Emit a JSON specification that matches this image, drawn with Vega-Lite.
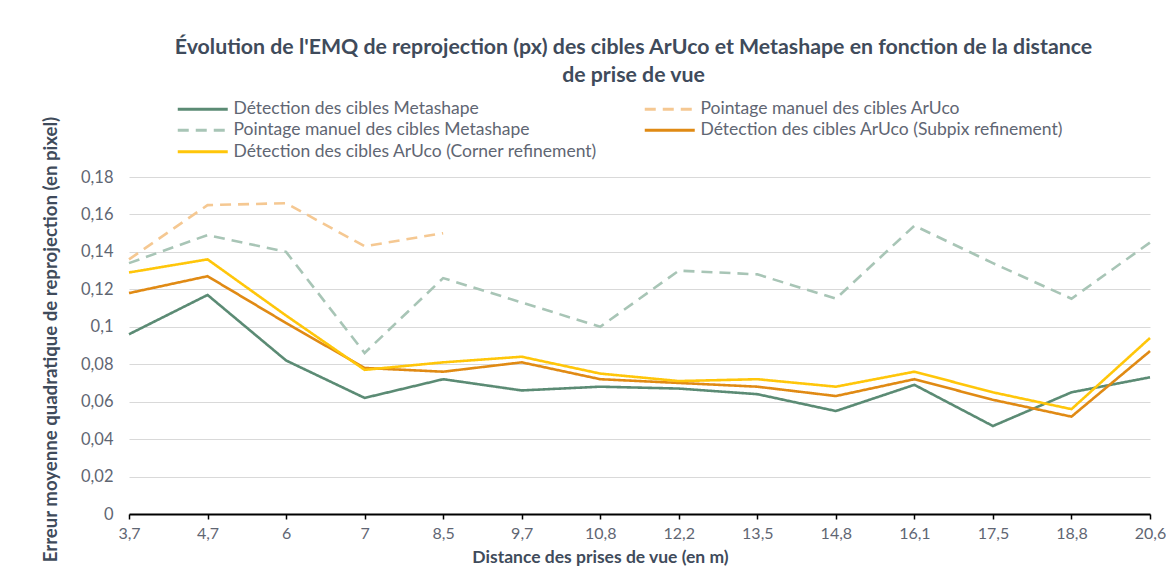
{
  "$schema": "https://vega.github.io/schema/vega-lite/v6.json",
  "width": 1021,
  "height": 337,
  "autosize": {"type": "none"},
  "padding": {"left": 129, "top": 177, "right": 16, "bottom": 61},
  "background": "white",
  "config": {
    "font": "Lato",
    "view": {"stroke": null}
  },
  "title": {
    "text": ["Évolution de l'EMQ de reprojection (px) des cibles ArUco et Metashape en fonction de la distance", "de prise de vue"],
    "anchor": "middle",
    "fontSize": 21.3,
    "fontWeight": "bold",
    "color": "#3F4B5B",
    "lineHeight": 28,
    "offset": 14,
    "dx": -6
  },
  "data": {
    "values": [
      {"d": "3,7", "Détection des cibles  Metashape": 0.096, "Pointage manuel des cibles ArUco": 0.136, "Pointage manuel des cibles  Metashape": 0.134, "Détection des cibles ArUco (Subpix refinement)": 0.118, "Détection des cibles ArUco (Corner refinement)": 0.129},
      {"d": "4,7", "Détection des cibles  Metashape": 0.117, "Pointage manuel des cibles ArUco": 0.165, "Pointage manuel des cibles  Metashape": 0.149, "Détection des cibles ArUco (Subpix refinement)": 0.127, "Détection des cibles ArUco (Corner refinement)": 0.136},
      {"d": "6", "Détection des cibles  Metashape": 0.082, "Pointage manuel des cibles ArUco": 0.166, "Pointage manuel des cibles  Metashape": 0.140, "Détection des cibles ArUco (Subpix refinement)": 0.102, "Détection des cibles ArUco (Corner refinement)": 0.106},
      {"d": "7", "Détection des cibles  Metashape": 0.062, "Pointage manuel des cibles ArUco": 0.143, "Pointage manuel des cibles  Metashape": 0.086, "Détection des cibles ArUco (Subpix refinement)": 0.078, "Détection des cibles ArUco (Corner refinement)": 0.077},
      {"d": "8,5", "Détection des cibles  Metashape": 0.072, "Pointage manuel des cibles ArUco": 0.150, "Pointage manuel des cibles  Metashape": 0.126, "Détection des cibles ArUco (Subpix refinement)": 0.076, "Détection des cibles ArUco (Corner refinement)": 0.081},
      {"d": "9,7", "Détection des cibles  Metashape": 0.066, "Pointage manuel des cibles  Metashape": 0.113, "Détection des cibles ArUco (Subpix refinement)": 0.081, "Détection des cibles ArUco (Corner refinement)": 0.084},
      {"d": "10,8", "Détection des cibles  Metashape": 0.068, "Pointage manuel des cibles  Metashape": 0.100, "Détection des cibles ArUco (Subpix refinement)": 0.072, "Détection des cibles ArUco (Corner refinement)": 0.075},
      {"d": "12,2", "Détection des cibles  Metashape": 0.067, "Pointage manuel des cibles  Metashape": 0.130, "Détection des cibles ArUco (Subpix refinement)": 0.070, "Détection des cibles ArUco (Corner refinement)": 0.071},
      {"d": "13,5", "Détection des cibles  Metashape": 0.064, "Pointage manuel des cibles  Metashape": 0.128, "Détection des cibles ArUco (Subpix refinement)": 0.068, "Détection des cibles ArUco (Corner refinement)": 0.072},
      {"d": "14,8", "Détection des cibles  Metashape": 0.055, "Pointage manuel des cibles  Metashape": 0.115, "Détection des cibles ArUco (Subpix refinement)": 0.063, "Détection des cibles ArUco (Corner refinement)": 0.068},
      {"d": "16,1", "Détection des cibles  Metashape": 0.069, "Pointage manuel des cibles  Metashape": 0.154, "Détection des cibles ArUco (Subpix refinement)": 0.072, "Détection des cibles ArUco (Corner refinement)": 0.076},
      {"d": "17,5", "Détection des cibles  Metashape": 0.047, "Pointage manuel des cibles  Metashape": 0.134, "Détection des cibles ArUco (Subpix refinement)": 0.061, "Détection des cibles ArUco (Corner refinement)": 0.065},
      {"d": "18,8", "Détection des cibles  Metashape": 0.065, "Pointage manuel des cibles  Metashape": 0.115, "Détection des cibles ArUco (Subpix refinement)": 0.052, "Détection des cibles ArUco (Corner refinement)": 0.056},
      {"d": "20,6", "Détection des cibles  Metashape": 0.073, "Pointage manuel des cibles  Metashape": 0.145, "Détection des cibles ArUco (Subpix refinement)": 0.087, "Détection des cibles ArUco (Corner refinement)": 0.094}
    ]
  },
  "transform": [
    {"fold": ["Détection des cibles  Metashape", "Pointage manuel des cibles ArUco", "Pointage manuel des cibles  Metashape", "Détection des cibles ArUco (Subpix refinement)", "Détection des cibles ArUco (Corner refinement)"], "as": ["serie", "v"]}
  ],
  "mark": {"type": "line", "strokeWidth": 2.6, "interpolate": "linear"},
  "encoding": {
    "x": {
      "field": "d",
      "type": "ordinal",
      "sort": ["3,7", "4,7", "6", "7", "8,5", "9,7", "10,8", "12,2", "13,5", "14,8", "16,1", "17,5", "18,8", "20,6"],
      "scale": {"type": "point", "padding": 0},
      "axis": {
        "title": "Distance des prises de vue (en m)",
        "titleFontSize": 17.5,
        "titleFontWeight": "bold",
        "titleColor": "#3F4B5B",
        "titleX": 471,
        "titlePadding": 7,
        "labelAngle": 0,
        "labelFontSize": 16,
        "labelColor": "#5F6673",
        "labelPadding": 6,
        "domainColor": "#000000",
        "domainWidth": 2,
        "tickColor": "#000000",
        "tickWidth": 1.5,
        "tickSize": 5,
        "grid": false
      }
    },
    "y": {
      "field": "v",
      "type": "quantitative",
      "scale": {"domain": [0, 0.18], "nice": false},
      "axis": {
        "title": "Erreur moyenne quadratique de reprojection (en pixel)",
        "titleFontSize": 18.6,
        "titleFontWeight": "bold",
        "titleColor": "#3F4B5B",
        "titlePadding": 20,
        "titleY": 162,
        "values": [0, 0.02, 0.04, 0.06, 0.08, 0.1, 0.12, 0.14, 0.16, 0.18],
        "labelExpr": "replace(format(datum.value, '.2~f'), '.', ',')",
        "labelFontSize": 16.5,
        "labelColor": "#5F6673",
        "labelPadding": 16,
        "domain": false,
        "ticks": false,
        "grid": true,
        "gridColor": "#D9D9D9",
        "gridWidth": 1.2
      }
    },
    "color": {
      "field": "serie",
      "type": "nominal",
      "scale": {
        "domain": ["Détection des cibles  Metashape", "Pointage manuel des cibles  Metashape", "Détection des cibles ArUco (Corner refinement)", "Pointage manuel des cibles ArUco", "Détection des cibles ArUco (Subpix refinement)"],
        "range": ["#5B8B74", "#A8C5B6", "#FFC60A", "#F5C892", "#E08A14"]
      },
      "legend": {
        "title": null,
        "orient": "none",
        "legendX": 45,
        "legendY": -77,
        "columns": 2,
        "columnPadding": 40,
        "rowPadding": 2.5,
        "symbolType": "M-1,0H9",
        "symbolSize": 100,
        "symbolStrokeWidth": 3,
        "labelFontSize": 17.5,
        "labelColor": "#5F6673",
        "labelOffset": 42,
        "labelLimit": 500
      }
    },
    "strokeDash": {
      "field": "serie",
      "type": "nominal",
      "scale": {
        "domain": ["Détection des cibles  Metashape", "Pointage manuel des cibles  Metashape", "Détection des cibles ArUco (Corner refinement)", "Pointage manuel des cibles ArUco", "Détection des cibles ArUco (Subpix refinement)"],
        "range": [[1, 0], [11, 7], [1, 0], [11, 7], [1, 0]]
      },
      "legend": {
        "title": null,
        "orient": "none",
        "legendX": 45,
        "legendY": -77,
        "columns": 2,
        "columnPadding": 40,
        "rowPadding": 2.5,
        "symbolType": "M-1,0H9",
        "symbolSize": 100,
        "symbolStrokeWidth": 3,
        "labelFontSize": 17.5,
        "labelColor": "#5F6673",
        "labelOffset": 42,
        "labelLimit": 500
      }
    }
  }
}
